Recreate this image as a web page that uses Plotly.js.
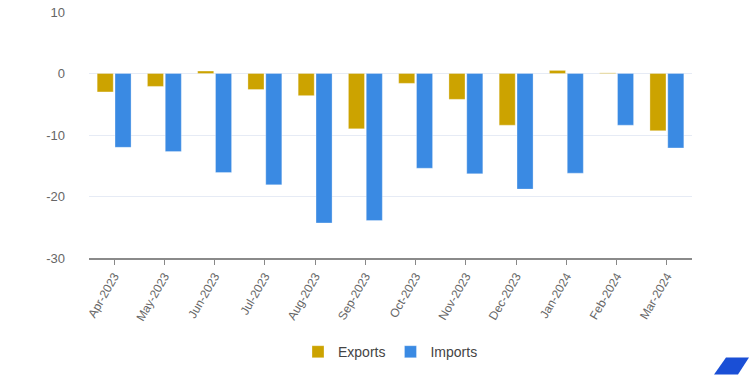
<!DOCTYPE html>
<html>
<head>
<meta charset="utf-8">
<script src="https://cdn.plot.ly/plotly-3.0.1.min.js"></script>
<style>html,body{margin:0;padding:0;background:#fff;}#chart{width:750px;height:375px;}</style>
</head>
<body>
<div id="chart"></div>
<script>
var months = ["Apr-2023","May-2023","Jun-2023","Jul-2023","Aug-2023","Sep-2023","Oct-2023","Nov-2023","Dec-2023","Jan-2024","Feb-2024","Mar-2024"];
var exportsVals = [-3.0, -2.1, 0.4, -2.6, -3.6, -9.0, -1.6, -4.2, -8.4, 0.5, 0.1, -9.3];
var importsVals = [-12.0, -12.7, -16.1, -18.1, -24.3, -23.9, -15.4, -16.3, -18.8, -16.2, -8.4, -12.1];
var yTickVals = [10, 0, -10, -20, -30];
var yTickText = ["10", "0", "-10", "-20", "-30"];

var traces = [
  {type:"bar", name:"Exports", x:months, y:exportsVals, marker:{color:"#cca300", line:{color:"rgba(255,255,255,0.6)", width:0.5}}},
  {type:"bar", name:"Imports", x:months, y:importsVals, marker:{color:"#3a8ae3", line:{color:"rgba(255,255,255,0.6)", width:0.5}}}
];
var layout = {
  width:750, height:375,
  margin:{l:89, r:58, t:12, b:117, autoexpand:false},
  paper_bgcolor:"#fff", plot_bgcolor:"#fff",
  font:{family:"Liberation Sans, Arial, sans-serif", size:12, color:"#666"},
  barmode:"group", bargap:0.29, bargroupgap:0.1,
  showlegend:true,
  legend:{orientation:"h", x:0.5, xanchor:"center", xref:"paper", y:0.061, yanchor:"middle", yref:"container", itemwidth:30, font:{size:14, color:"#444"}},
  xaxis:{type:"category", automargin:false, tickangle:-60, ticks:"outside", ticklen:5, tickcolor:"#888", showline:true, linecolor:"#8a8a8a", linewidth:1.5, showgrid:false, tickfont:{size:12, color:"#666"}},
  yaxis:{range:[-30,10], automargin:false, tickvals:yTickVals, ticktext:yTickText, showgrid:true, gridcolor:"#e6ebf5", zeroline:true, zerolinecolor:"#e6ebf5", zerolinewidth:1, showline:false, ticks:"", ticklabelstandoff:23, tickfont:{size:13, color:"#666"}},
  shapes:[{type:"path", xref:"paper", yref:"paper", path:"M 1.0564 -0.4045 L 1.0945 -0.4045 L 1.0763 -0.4736 L 1.0365 -0.4736 Z", fillcolor:"#1a4fd6", line:{width:0}}]
};
Plotly.newPlot("chart", traces, layout, {displayModeBar:false, staticPlot:true});
</script>
</body>
</html>
